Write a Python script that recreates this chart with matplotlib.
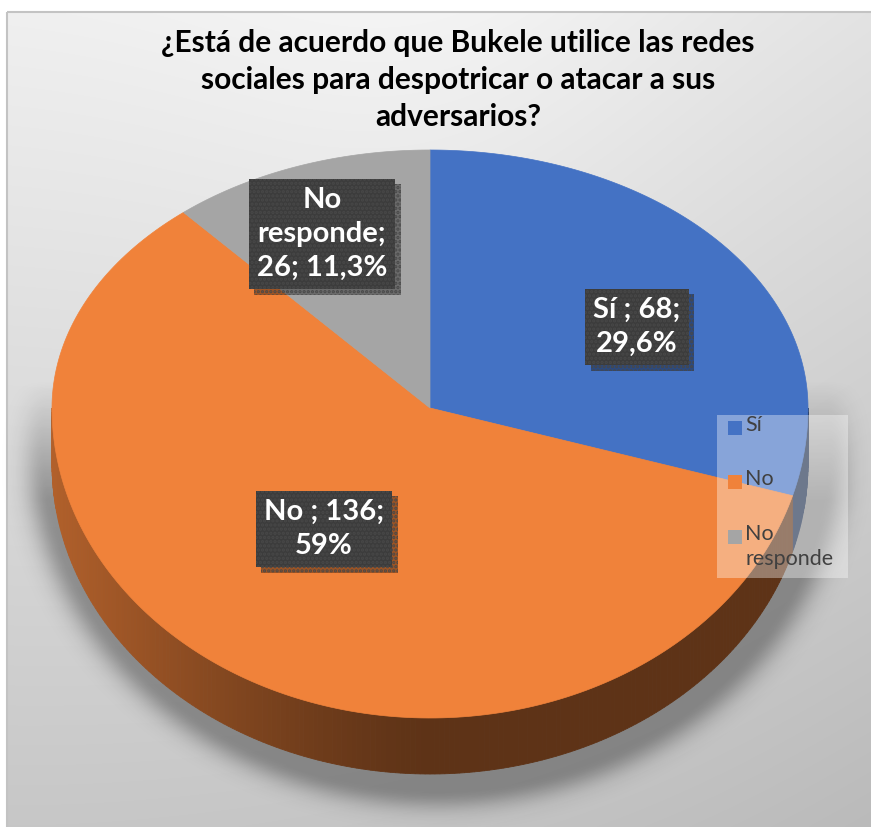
import matplotlib
matplotlib.use("Agg")
import matplotlib.pyplot as plt
import numpy as np
from matplotlib import patheffects as pe
from matplotlib.patches import Polygon, Rectangle

W, H = 871, 827

TITLE = ("¿Está de acuerdo que Bukele utilice las redes\n"
         "sociales para despotricar o atacar a sus\nadversarios?")
CATEGORIES = ["Sí", "No", "No responde"]
VALUES = [68, 136, 26]
PCT_LABELS = ["29,6%", "59%", "11,3%"]
COLORS = ["#4472C4", "#F0823A", "#A5A5A5"]

# pie geometry (pixels, y grows downward)
CX, CY = 430, 408
RX, RY_BACK, RY_FRONT = 378, 258, 310
DEPTH = 56
FONT = "Lato"


def rim(t):
    t = np.asarray(t, dtype=float)
    c = np.cos(t)
    x = CX + RX * np.sin(t)
    y = CY - np.where(c > 0, RY_BACK, RY_FRONT) * c
    return x, y


def data_label(i):
    cat, v, p = CATEGORIES[i], VALUES[i], PCT_LABELS[i]
    if len(cat) > 3:
        first, rest = cat.split(" ", 1)
        return f"{first}\n{rest};\n{v}; {p}"
    return f"{cat} ; {v};\n{p}"


fig = plt.figure(figsize=(W / 100, H / 100), dpi=100, facecolor="white")
ax = fig.add_axes([0, 0, 1, 1])
ax.set_xlim(0, W)
ax.set_ylim(H, 0)
ax.axis("off")

# chart area background
yy, xx = np.mgrid[0:H, 0:W]
nx, ny = xx / W, yy / H
g = 0.94 - 0.16 * ny - 0.05 * nx ** 2 + 0.03 * np.exp(-((nx - 0.5) / 0.3) ** 2) * (1 - ny)
bg = np.clip(np.dstack([g, g, g]), 0, 1)
ax.imshow(bg[12:, 8:], extent=(8, W, H, 12), zorder=0, aspect="auto")
ax.add_patch(Rectangle((7, 12), W, H, fill=False, ec="#c3c3c3", lw=1.5, zorder=1))

# soft shadow under the pie
r = np.sqrt(((xx - 436) / 392) ** 2 + ((yy - 442) / 348) ** 2)
sh = np.where(r > 1, np.exp(-((r - 1) / 0.055) ** 2), 1.0) * np.clip((yy - 380) / 120, 0, 1)
shadow = np.zeros((H, W, 4))
shadow[..., 3] = 0.33 * sh
ax.imshow(shadow, extent=(0, W, H, 0), zorder=2, aspect="auto")

fracs = np.array(VALUES) / sum(VALUES)
bounds = np.concatenate([[0], np.cumsum(fracs)]) * 2 * np.pi

# side wall of the front half
steps = np.linspace(np.pi / 2, 3 * np.pi / 2, 241)
for a, b in zip(steps[:-1], steps[1:]):
    mid = (a + b) / 2
    k = np.searchsorted(bounds, mid) - 1
    base = np.array(matplotlib.colors.to_rgb(COLORS[k]))
    xm = rim(mid)[0]
    shade = 0.39 + 0.35 * np.clip((CX - xm) / RX, 0, 1) ** 1.3
    col = np.clip(base * shade, 0, 1)
    x0, y0 = rim(a)
    x1, y1 = rim(b)
    ax.add_patch(Polygon([[x0, y0], [x1, y1], [x1, y1 + DEPTH], [x0, y0 + DEPTH]],
                         closed=True, fc=col, ec=col, lw=0.6, zorder=3))

# top surface
for i in range(len(VALUES)):
    t = np.linspace(bounds[i], bounds[i + 1], 200)
    x, y = rim(t)
    pts = np.column_stack([np.r_[CX, x], np.r_[CY, y]])
    ax.add_patch(Polygon(pts, closed=True, fc=COLORS[i], ec=COLORS[i], lw=0.5,
                         zorder=4, label=CATEGORIES[i]))

# data labels
plt.rcParams["hatch.linewidth"] = 1.6
label_pos = [(637, 327), (324, 529), (322, 234)]
for i, (lx, ly) in enumerate(label_pos):
    txt = ax.text(lx, ly, data_label(i), ha="center", va="center", fontsize=21,
                  fontweight="bold", family=FONT, color="white", linespacing=1.38,
                  zorder=6,
                  bbox=dict(boxstyle="square,pad=0.28", fc="#3c3c3c", ec="#484848",
                            lw=0, hatch="...."))
    txt.get_bbox_patch().set_path_effects(
        [pe.SimplePatchShadow(offset=(4, -4), shadow_rgbFace="black", alpha=0.35),
         pe.Normal()])

# legend
ax.add_patch(Rectangle((717, 415), 131, 163, fc="white", alpha=0.36, lw=0, zorder=7))
leg_y = [428, 482, 537]
for i, ly in enumerate(leg_y):
    ax.add_patch(Rectangle((728, ly - 7), 14, 14, fc=COLORS[i], lw=0, zorder=8))
    ax.text(745, ly - 13, CATEGORIES[i].replace(" ", "\n"), ha="left", va="top",
            fontsize=15.5, family=FONT, color="#404040", linespacing=1.3, zorder=8)

# title
ax.text(458, 80, TITLE, ha="center", va="center", fontsize=21.5, fontweight="bold",
        family=FONT, color="black", linespacing=1.38, zorder=5)

fig.savefig("out.png", dpi=100)
